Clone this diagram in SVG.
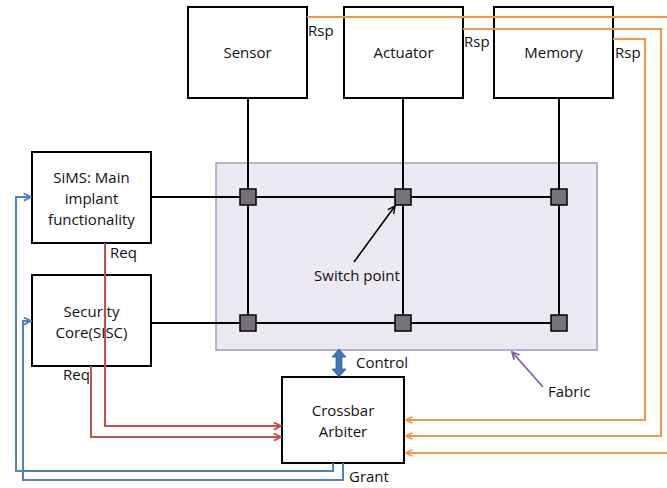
<svg xmlns="http://www.w3.org/2000/svg" width="667" height="488" viewBox="0 0 667 488">
  <style>
    .box { fill: #ffffff; stroke: #000000; stroke-width: 2; }
    .lbl { font-family: "Open Sans", "Liberation Sans", sans-serif; font-size: 15px; fill: #111111; }
    .mid { text-anchor: middle; }
    .bus { stroke: #000000; stroke-width: 2; fill: none; }
    .sw { fill: #76717a; stroke: #000000; stroke-width: 1.5; }
    .rsp { stroke: #f79646; stroke-width: 2.2; fill: none; }
    .req { stroke: #c0504d; stroke-width: 2; fill: none; }
    .gnt { stroke: #4f81bd; stroke-width: 2; fill: none; }
  </style>
  <defs>
    <marker id="hOrange" viewBox="0 0 10 10" refX="9" refY="5" markerWidth="8" markerHeight="8" orient="auto" markerUnits="userSpaceOnUse">
      <path d="M1,1 L9,5 L1,9" fill="none" stroke="#f79646" stroke-width="2"/>
    </marker>
    <marker id="hRed" viewBox="0 0 10 10" refX="9" refY="5" markerWidth="9" markerHeight="9" orient="auto" markerUnits="userSpaceOnUse">
      <path d="M1,1 L9,5 L1,9" fill="none" stroke="#c0504d" stroke-width="2"/>
    </marker>
    <marker id="hBlue" viewBox="0 0 10 10" refX="9" refY="5" markerWidth="9" markerHeight="9" orient="auto" markerUnits="userSpaceOnUse">
      <path d="M1,1 L9,5 L1,9" fill="none" stroke="#4f81bd" stroke-width="2"/>
    </marker>
    <marker id="hBlack" viewBox="0 0 10 10" refX="9" refY="5" markerWidth="9" markerHeight="9" orient="auto" markerUnits="userSpaceOnUse">
      <path d="M1,1 L9,5 L1,9" fill="none" stroke="#000000" stroke-width="1.6"/>
    </marker>
    <marker id="hPurple" viewBox="0 0 10 10" refX="9" refY="5" markerWidth="9" markerHeight="9" orient="auto" markerUnits="userSpaceOnUse">
      <path d="M1,1 L9,5 L1,9" fill="none" stroke="#8064a2" stroke-width="2"/>
    </marker>
  </defs>

  <!-- switching fabric backdrop -->
  <g id="fabric">
    <rect x="217" y="164" width="381" height="187" fill="#c8c2d6" opacity="0.5"/>
    <rect x="216" y="163" width="381" height="187" fill="#ece9f3" stroke="#a99bc2" stroke-width="1.5"/>
  </g>

  <g id="sensor">
    <rect class="box" x="188" y="7" width="119" height="91"/>
    <text class="lbl mid" x="247.5" y="58">Sensor</text>
  </g>
  <g id="actuator">
    <rect class="box" x="344" y="7" width="119" height="91"/>
    <text class="lbl mid" x="403.5" y="58">Actuator</text>
  </g>
  <g id="memory">
    <rect class="box" x="494" y="7" width="119" height="91"/>
    <text class="lbl mid" x="553.5" y="58">Memory</text>
  </g>
  <g id="sims">
    <rect class="box" x="32" y="152" width="119" height="91"/>
    <text class="lbl mid" x="91.5" y="183">SiMS: Main</text>
    <text class="lbl mid" x="91.5" y="204">implant</text>
    <text class="lbl mid" x="91.5" y="225">functionality</text>
  </g>
  <g id="security">
    <rect class="box" x="32" y="275" width="119" height="91"/>
    <text class="lbl mid" x="91.5" y="317">Security</text>
    <text class="lbl mid" x="91.5" y="338">Core(SISC)</text>
  </g>
  <g id="arbiter">
    <rect class="box" x="282" y="377" width="122" height="86"/>
    <text class="lbl mid" x="343" y="416">Crossbar</text>
    <text class="lbl mid" x="343" y="437">Arbiter</text>
  </g>

  <g id="connectors">
    <!-- crossbar buses -->
    <line class="bus" x1="248" y1="98" x2="248" y2="323"/>
    <line class="bus" x1="403" y1="98" x2="403" y2="323"/>
    <line class="bus" x1="559" y1="98" x2="559" y2="323"/>
    <line class="bus" x1="151" y1="197" x2="559" y2="197"/>
    <line class="bus" x1="151" y1="323" x2="559" y2="323"/>

    <!-- responses back to the arbiter -->
    <polyline class="rsp" points="307,17 667,17"/>
    <polyline class="rsp" points="667,453 406,453" marker-end="url(#hOrange)"/>
    <polyline class="rsp" points="463,29 661,29 661,436 406,436" marker-end="url(#hOrange)"/>
    <polyline class="rsp" points="613,39 645,39 645,420 406,420" marker-end="url(#hOrange)"/>

    <!-- requests -->
    <polyline class="req" points="105,243 105,426 281,426" marker-end="url(#hRed)"/>
    <polyline class="req" points="91,366 91,437 281,437" marker-end="url(#hRed)"/>

    <!-- grants -->
    <polyline class="gnt" points="333,463 333,471 16,471 16,197 31,197" marker-end="url(#hBlue)"/>
    <polyline class="gnt" points="343,463 343,480 23,480 23,321 31,321" marker-end="url(#hBlue)"/>

    <!-- control link between fabric and arbiter -->
    <path d="M339,349 L346,357 L342,357 L342,369 L346,369 L339,377 L332,369 L336,369 L336,357 L332,357 Z" fill="#3f74b5" stroke="#2e5f99" stroke-width="0.8"/>

    <!-- callouts -->
    <line x1="354" y1="262" x2="395" y2="206" stroke="#000000" stroke-width="1.6" marker-end="url(#hBlack)"/>
    <line x1="543" y1="387" x2="512" y2="352" stroke="#8064a2" stroke-width="1.8" marker-end="url(#hPurple)"/>
  </g>

  <!-- switch points -->
  <g id="switches">
    <rect class="sw" x="240" y="189" width="16" height="16"/>
    <rect class="sw" x="395" y="189" width="16" height="16"/>
    <rect class="sw" x="551" y="189" width="16" height="16"/>
    <rect class="sw" x="240" y="315" width="16" height="16"/>
    <rect class="sw" x="395" y="315" width="16" height="16"/>
    <rect class="sw" x="551" y="315" width="16" height="16"/>
  </g>

  <g id="labels">
    <text class="lbl" x="308" y="36">Rsp</text>
    <text class="lbl" x="464" y="47">Rsp</text>
    <text class="lbl" x="615" y="58">Rsp</text>
    <text class="lbl" x="110" y="258">Req</text>
    <text class="lbl" x="63" y="380">Req</text>
    <text class="lbl" x="357" y="281" text-anchor="middle">Switch point</text>
    <text class="lbl" x="356" y="368">Control</text>
    <text class="lbl" x="548" y="397">Fabric</text>
    <text class="lbl" x="349" y="482">Grant</text>
  </g>
</svg>
